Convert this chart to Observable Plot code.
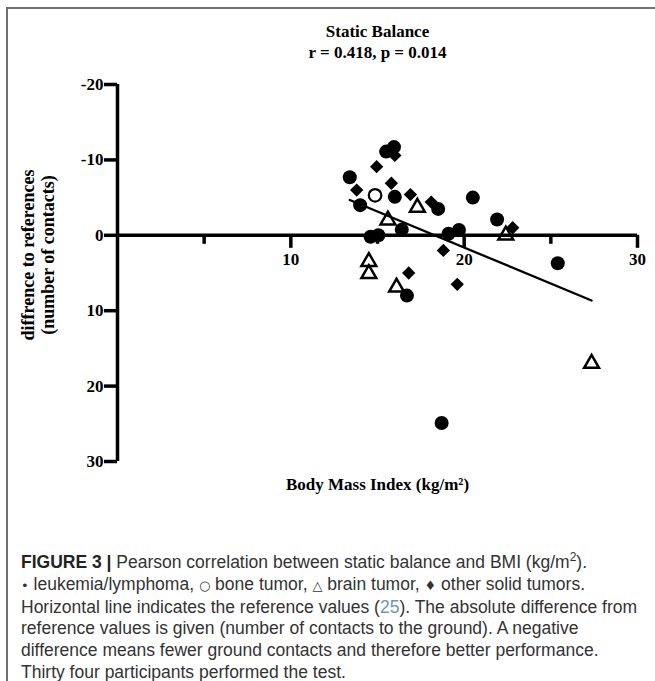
<!DOCTYPE html>
<html><head><meta charset="utf-8">
<script src="https://cdn.jsdelivr.net/npm/d3@7"></script>
<script src="https://cdn.jsdelivr.net/npm/@observablehq/plot@0.6"></script>
<style>
body{margin:0;background:#fff;width:655px;height:681px;overflow:hidden;position:relative}
#frame{position:absolute;left:6px;top:7px;width:660px;height:690px;border-top:2px solid #707070;border-left:2px solid #707070}
#chart{position:absolute;left:0;top:0}
#caption{position:absolute;left:21px;top:552px;font-family:"Liberation Sans",Arial,sans-serif;font-size:17.5px;line-height:21.8px;color:#333;white-space:nowrap}
#caption b{color:#222}
#caption .ref{color:#7393b8}
#caption .sym{font-size:13px;font-family:"DejaVu Sans",sans-serif}
</style></head><body>
<div id="frame"></div>
<div id="chart"></div>
<div id="caption"><b>FIGURE 3 |</b> Pearson correlation between static balance and BMI (kg/m<sup style="font-size:12px;line-height:0">2</sup>).<br><span class="sym">•</span> leukemia/lymphoma, <span class="sym">○</span> bone tumor, <span class="sym">△</span> brain tumor, <span class="sym">♦</span> other solid tumors.<br>Horizontal line indicates the reference values (<span class="ref">25</span>). The absolute difference from<br>reference values is given (number of contacts to the ground). A negative<br>difference means fewer ground contacts and therefore better performance.<br>Thirty four participants performed the test.</div>
<script>
// Data (x = BMI, y = difference to reference)
const leukemiaBMI  = [13.4, 15.5, 15.95, 14.0, 16.0, 18.5, 20.5, 21.9, 14.6, 15.05, 16.4, 19.1, 19.7, 16.7, 25.4, 18.7];
const leukemiaDiff = [-7.7, -11.1, -11.7, -4.0, -5.1, -3.5, -5.0, -2.1, 0.2, 0.0, -0.75, -0.2, -0.7, 8.0, 3.7, 24.9];
const boneBMI  = [14.86];
const boneDiff = [-5.3];
const brainBMI  = [15.6, 17.3, 22.4, 14.5, 14.5, 16.1, 27.35];
const brainDiff = [-2.0, -3.7, 0.0, 3.5, 5.1, 6.9, 17.0];
const otherBMI  = [14.95, 13.8, 15.8, 16.9, 18.1, 22.8, 18.8, 16.8, 19.6, 16.0];
const otherDiff = [-9.1, -6.0, -6.9, -5.4, -4.4, -1.0, 2.0, 5.0, 6.5, -10.6];

const xMajorTicks = [10, 20, 30];
const xMinorTicks = [5, 15, 25];
const yTicks = [-20, -10, 0, 10, 20, 30];
const titleText = "Static Balance";
const statsText = "r = 0.418, p = 0.014";
const xLabel = "Body Mass Index (kg/m²)";
const yLabel = ["diffrence to references", "(number of contacts)"];

const rows = (xs, ys, g) => xs.map((x, i) => ({bmi: x, diff: ys[i], group: g}));
const leukemia = rows(leukemiaBMI, leukemiaDiff, "leukemia/lymphoma");
const bone = rows(boneBMI, boneDiff, "bone tumor");
const brain = rows(brainBMI, brainDiff, "brain tumor");
const other = rows(otherBMI, otherDiff, "other solid tumors");
const all = [...leukemia, ...bone, ...brain, ...other];

const serif = '"Liberation Serif", "Times New Roman", serif';
const fs = 17;

const chart = Plot.plot({
  width: 655,
  height: 505,
  marginLeft: 117,
  marginRight: 18,
  marginTop: 84,
  marginBottom: 44,
  x: {domain: [0, 30], axis: null},
  y: {domain: [-20, 30], reverse: true},
  style: {fontFamily: serif, fontWeight: "bold", fontSize: fs + "px", color: "#000", background: "transparent", overflow: "visible"},
  marks: [
    Plot.axisY(yTicks, {anchor: "left", tickSize: 13, tickPadding: 1, strokeWidth: 3.5, tickFormat: d => String(d), label: null, fontSize: fs, fontWeight: "bold", fontFamily: serif}),
    Plot.ruleX(xMinorTicks, {x: d => d, y1: 0, y2: 0, insetBottom: -9, stroke: "#000", strokeWidth: 3.5}),
    Plot.ruleX(xMajorTicks, {x: d => d, y1: 0, y2: 0, insetBottom: -13, stroke: "#000", strokeWidth: 3.5}),
    Plot.ruleY([0], {stroke: "#000", strokeWidth: 3.5}),
    Plot.ruleX([0], {stroke: "#000", strokeWidth: 3.5}),
    Plot.text(xMajorTicks, {x: d => d, y: 0, dy: 24, text: d => String(d), lineAnchor: "middle", fontSize: fs, fontWeight: "bold", fontFamily: serif}),
    Plot.text([titleText + "\n" + statsText], {frameAnchor: "top", dy: -62.5, lineAnchor: "top", lineHeight: 1.235, fontSize: fs, fontWeight: "bold", fontFamily: serif}),
    Plot.text([xLabel], {frameAnchor: "bottom", dy: 23, lineAnchor: "middle", fontSize: fs, fontWeight: "bold", fontFamily: serif}),
    Plot.text([yLabel.join("\n")], {frameAnchor: "left", textAnchor: "middle", rotate: -90, dx: -80, dy: -18, lineAnchor: "middle", lineHeight: 1.15, fontSize: 18, fontWeight: "bold", fontFamily: serif}),
    Plot.linearRegressionY(all, {x: "bmi", y: "diff", ci: 0, stroke: "#000", strokeWidth: 2.3}),
    Plot.dot(other, {x: "bmi", y: "diff", symbol: "diamond2", r: 6, fill: "#000", stroke: "none"}),
    Plot.dot(leukemia, {x: "bmi", y: "diff", symbol: "circle", r: 7, fill: "#000", stroke: "none"}),
    Plot.dot(brain, {x: "bmi", y: "diff", symbol: "triangle", r: 5.5, fill: "none", stroke: "#000", strokeWidth: 2.5}),
    Plot.dot(bone, {x: "bmi", y: "diff", symbol: "circle", r: 6.3, fill: "white", stroke: "#000", strokeWidth: 2.2})
  ]
});
document.getElementById("chart").appendChild(chart);
</script>
</body></html>
